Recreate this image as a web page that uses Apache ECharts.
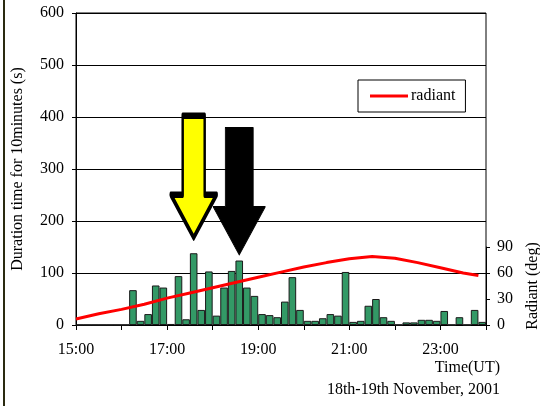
<!DOCTYPE html>
<html>
<head>
<meta charset="utf-8">
<script src="https://cdn.jsdelivr.net/npm/echarts@6/dist/echarts.min.js"></script>
<style>
  html, body { margin: 0; padding: 0; background: #fff; }
  #wrap { position: relative; width: 540px; height: 406px; }
  #chart { position: absolute; left: 0; top: 0; width: 540px; height: 406px; }
  #edge { position: absolute; left: 3px; top: 0; width: 2px; height: 406px; background: #2a2a10; }
</style>
</head>
<body>
<div id="wrap"><div id="chart"></div><div id="edge"></div></div>
<script>
// 10-minute bins from 15:00 to 23:50 (UT)
const binLabels = [
  '15:00','15:10','15:20','15:30','15:40','15:50',
  '16:00','16:10','16:20','16:30','16:40','16:50',
  '17:00','17:10','17:20','17:30','17:40','17:50',
  '18:00','18:10','18:20','18:30','18:40','18:50',
  '19:00','19:10','19:20','19:30','19:40','19:50',
  '20:00','20:10','20:20','20:30','20:40','20:50',
  '21:00','21:10','21:20','21:30','21:40','21:50',
  '22:00','22:10','22:20','22:30','22:40','22:50',
  '23:00','23:10','23:20','23:30','23:40','23:50'
];
// Duration time for 10 minutes (s)
const durations = [
  0, 0, 0, 0, 0, 0,
  0, 67, 8, 21, 76, 72,
  2, 94, 11, 138, 29, 103,
  18, 72, 104, 124, 72, 56,
  21, 19, 15, 45, 92, 29,
  8, 8, 13, 21, 18, 102,
  6, 8, 37, 50, 15, 8,
  0, 5, 5, 10, 10, 8,
  27, 0, 15, 0, 29, 6
];
// Radiant elevation (deg), time in minutes after 15:00
const radiantMinutes = [0, 30, 60, 90, 120, 150, 180, 210, 240, 270, 300, 330, 360, 390, 420, 450, 480, 510, 530];
const radiantDeg     = [7, 13, 18, 24, 31, 37, 43, 49, 55, 61, 67, 72, 76.5, 79, 77, 72, 66, 60, 57];
// Axis ticks
const hourLabelMinutes = [0, 120, 240, 360, 480];
const radiantTicks = [0, 30, 60, 90];
// Arrow annotations: [bin, value at tip]
const yellowArrowAt = ['17:30', 168];
const blackArrowAt = ['18:30', 135];

const serif = 'Liberation Serif';
const radiantData = radiantMinutes.map((m, i) => [m, radiantDeg[i]]);

const yellowArrow = 'path://M12,0 L34,0 L34,79 L46,79 L23,122 L0,79 L12,79 Z';
const blackArrow = 'path://M12,0 L40,0 L40,79 L52,79 L26,127 L0,79 L12,79 Z';

const chart = echarts.init(document.getElementById('chart'), null, { renderer: 'canvas' });
chart.setOption({
  animation: false,
  backgroundColor: '#fff',
  textStyle: { fontFamily: serif, color: '#000' },
  grid: [
    { left: 76, right: 54, top: 13, bottom: 81, show: true, borderColor: '#000', borderWidth: 1,
      backgroundColor: 'transparent', outerBoundsMode: 'none', containLabel: false },
    { left: 76, right: 54, top: 247, bottom: 81, outerBoundsMode: 'none', containLabel: false }
  ],
  legend: {
    show: true, left: 358, top: 80, orient: 'horizontal',
    data: [{ name: 'radiant', icon: 'rect' }],
    itemWidth: 38, itemHeight: 3, itemGap: 5,
    padding: [8, 10, 8, 12],
    borderColor: '#000', borderWidth: 1, backgroundColor: '#fff',
    textStyle: { fontFamily: serif, fontSize: 16, color: '#000', padding: [0, 0, 0, -2] }
  },
  xAxis: [
    { type: 'category', gridIndex: 0, position: 'bottom', data: binLabels, show: false, boundaryGap: true },
    { type: 'value', gridIndex: 0, position: 'bottom', min: 0, max: 540, interval: 60,
      axisLine: { show: true, onZero: false, lineStyle: { color: '#000', width: 1 } },
      axisTick: { show: true, length: 5, inside: false, lineStyle: { color: '#000' } },
      splitLine: { show: false },
      axisLabel: {
        customValues: hourLabelMinutes, margin: 17,
        fontFamily: serif, fontSize: 16, color: '#000',
        formatter: v => (15 + Math.round(v / 60)) + ':00'
      },
      name: 'Time(UT)\n18th-19th November, 2001',
      nameLocation: 'end', nameGap: 14, nameMoveOverlap: false,
      nameTextStyle: { fontFamily: serif, fontSize: 16, color: '#000', align: 'right',
        verticalAlign: 'top', lineHeight: 22, padding: [32, 0, 0, 0] }
    },
    { type: 'value', gridIndex: 1, position: 'bottom', min: 0, max: 540, show: false }
  ],
  yAxis: [
    { type: 'value', gridIndex: 0, position: 'left', min: 0, max: 600, interval: 100,
      axisLine: { show: true, onZero: false, lineStyle: { color: '#000' } },
      axisTick: { show: true, length: 4, lineStyle: { color: '#000' } },
      splitLine: { show: true, lineStyle: { color: '#000', width: 1 } },
      axisLabel: { margin: 12, fontFamily: serif, fontSize: 16, color: '#000' },
      name: 'Duration time for 10minutes (s)', nameLocation: 'middle', nameGap: 50,
      nameMoveOverlap: false,
      nameTextStyle: { fontFamily: serif, fontSize: 16, color: '#000' }
    },
    { type: 'value', gridIndex: 1, position: 'right', min: 0, max: 90, interval: 30,
      axisLine: { show: true, onZero: false, lineStyle: { color: '#000' } },
      axisTick: { show: true, length: 4, lineStyle: { color: '#000' } },
      splitLine: { show: false },
      axisLabel: { customValues: radiantTicks, margin: 11, fontFamily: serif, fontSize: 16, color: '#000' },
      name: 'Radiant (deg)', nameLocation: 'middle', nameGap: 39, nameMoveOverlap: false,
      nameTextStyle: { fontFamily: serif, fontSize: 16, color: '#000' }
    }
  ],
  series: [
    { type: 'bar', name: 'duration', xAxisIndex: 0, yAxisIndex: 0, data: durations,
      barCategoryGap: '0%', barGap: '0%',
      itemStyle: { color: '#339966', borderColor: '#1a1a1a', borderWidth: 1 },
      markPoint: {
        silent: true, label: { show: false },
        data: [
          { coord: yellowArrowAt, symbol: yellowArrow, symbolSize: [46, 122], symbolOffset: [0, '-50%'],
            itemStyle: { color: '#ffff00', borderColor: '#000', borderWidth: 4, borderJoin: 'round' } },
          { coord: blackArrowAt, symbol: blackArrow, symbolSize: [52, 127], symbolOffset: [0, '-50%'],
            itemStyle: { color: '#000', borderColor: '#000', borderWidth: 1, borderJoin: 'round' } }
        ]
      },
      z: 2
    },
    { type: 'line', name: 'radiant', xAxisIndex: 2, yAxisIndex: 1, data: radiantData,
      showSymbol: false, symbol: 'none', color: '#ff0000',
      lineStyle: { color: '#ff0000', width: 3 }, z: 5 }
  ]
});
</script>
</body>
</html>
